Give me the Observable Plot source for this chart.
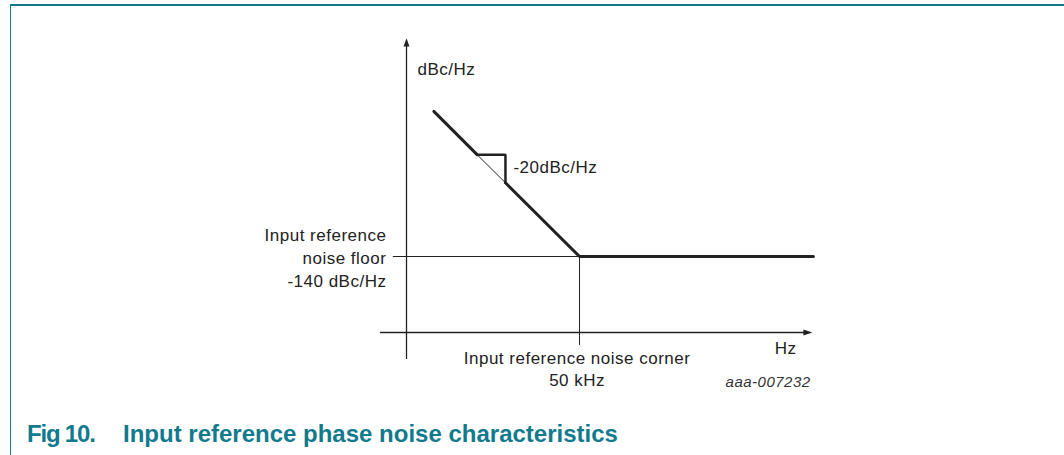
<!DOCTYPE html>
<html>
<head>
<meta charset="utf-8">
<script src="https://cdn.jsdelivr.net/npm/d3@7"></script>
<script src="https://cdn.jsdelivr.net/npm/@observablehq/plot@0.6"></script>
<style>
  html, body { margin: 0; padding: 0; background: #fff; }
  #wrap { position: relative; width: 1064px; height: 455px; overflow: hidden; background: #fff; }
  #frame { position: absolute; left: 10px; top: 4px; width: 1060px; height: 460px;
           border-top: 2px solid #16788c; border-left: 1px solid #16788c; box-sizing: border-box; }
  #chart { position: absolute; left: 0; top: 0; }
  #chart svg text { letter-spacing: 0.5px; }
  .cap { position: absolute; top: 421px; font-family: "Liberation Sans", Arial, sans-serif;
         font-weight: bold; font-size: 24px; line-height: 26px; color: #127a8e; white-space: nowrap; }
</style>
</head>
<body>
<div id="wrap">
  <div id="frame"></div>
  <div id="chart"></div>
  <div class="cap" style="left:27px; letter-spacing:-1.2px">Fig 10.</div>
  <div class="cap" style="left:123px">Input reference phase noise characteristics</div>
</div>
<script>
// Schematic phase-noise curve (x: arbitrary log-frequency units, corner at 50 kHz; y: dBc/Hz)
const curveX = [7.9, 20.4, 28.6, 50, 117.6];
const curveY = [-101.8, -113.2, -120.6, -140, -140];
const curvePart = ["thick1", "thin", "thick2", "thick2", "thick2"];

// slope indicator triangle (-20 dBc/Hz per decade)
const slopeX = [20.4, 28.6, 28.6];
const slopeY = [-113.2, -113.2, -120.6];

// axes
const xAxisRange = [-7.5, 117.3];   // horizontal axis at y = xAxisLevel
const xAxisLevel = -160;
const yAxisRange = [-167.1, -82.6]; // vertical axis at x = 0
const yAxisAt = 0;

// noise floor and corner guide lines
const floorLevel = -140;
const floorStartX = -3.8;
const cornerX = 50;
const cornerBottomY = -163.4;

// labels
const labelText = ["dBc/Hz", "-20dBc/Hz", "Hz"];
const labelX = [3.2, 30.9, 106.4];
const labelY = [-90.8, -116.6, -164.2];

const floorLabel = "Input reference\nnoise floor\n-140 dBc/Hz";
const floorLabelX = -5.8;
const floorLabelY = -140;

const cornerLabel = "Input reference noise corner\n50 kHz";
const cornerLabelX = 49.3;
const cornerLabelY = -169.3;

const figId = "aaa-007232";
const figIdX = 116.8;
const figIdY = -173.2;

// build tables
const curve = curveX.map((x, i) => ({x, y: curveY[i], part: curvePart[i]}));
const thick1 = curve.slice(0, 2);
const thin = curve.slice(1, 3);
const thick2 = curve.slice(2);
const slope = slopeX.map((x, i) => ({x, y: slopeY[i]}));
const labels = labelText.map((t, i) => ({t, x: labelX[i], y: labelY[i]}));

const arrowUp = { draw(ctx) { ctx.moveTo(0, 0); ctx.lineTo(-3, 8); ctx.lineTo(3, 8); ctx.closePath(); } };
const arrowRight = { draw(ctx) { ctx.moveTo(0, 0); ctx.lineTo(-9, -3); ctx.lineTo(-9, 3); ctx.closePath(); } };

const ink = "#222";
const font = "Liberation Sans, Arial, sans-serif";

const plot = Plot.plot({
  width: 1064,
  height: 400,
  margin: 0,
  style: {background: "transparent", fontFamily: font, overflow: "visible"},
  x: {domain: [-117.34, 190.17], axis: null},
  y: {domain: [-177.89, -72.63], axis: null},
  marks: [
    // axes
    Plot.ruleY([xAxisLevel], {x1: xAxisRange[0], x2: xAxisRange[1] - 2, stroke: ink, strokeWidth: 1.3}),
    Plot.ruleX([yAxisAt], {y1: yAxisRange[0], y2: yAxisRange[1] - 0.5, stroke: ink, strokeWidth: 1.3}),
    Plot.dot([{x: yAxisAt, y: yAxisRange[1]}], {x: "x", y: "y", symbol: arrowUp, fill: ink, stroke: "none", r: 3}),
    Plot.dot([{x: xAxisRange[1], y: xAxisLevel}], {x: "x", y: "y", symbol: arrowRight, fill: ink, stroke: "none", r: 3}),
    // guides
    Plot.ruleY([floorLevel], {x1: floorStartX, x2: cornerX, stroke: ink, strokeWidth: 1}),
    Plot.ruleX([cornerX], {y1: cornerBottomY, y2: floorLevel, stroke: ink, strokeWidth: 1}),
    // curve
    Plot.line(thin, {x: "x", y: "y", stroke: ink, strokeWidth: 1}),
    Plot.line(thick1, {x: "x", y: "y", stroke: ink, strokeWidth: 3}),
    Plot.line(thick2, {x: "x", y: "y", stroke: ink, strokeWidth: 3, strokeLinejoin: "miter"}),
    Plot.line(slope, {x: "x", y: "y", stroke: ink, strokeWidth: 2.5, strokeLinejoin: "miter"}),
    // labels
    Plot.text(labels, {x: "x", y: "y", text: "t", textAnchor: "start", fontSize: 17, fill: "#222"}),
    Plot.text([floorLabel], {x: floorLabelX, y: floorLabelY, text: d => d, textAnchor: "end", lineAnchor: "middle", lineHeight: 1.35, fontSize: 17, fill: "#222"}),
    Plot.text([cornerLabel], {x: cornerLabelX, y: cornerLabelY, text: d => d, textAnchor: "middle", lineAnchor: "middle", lineHeight: 1.3, fontSize: 17, fill: "#222"}),
    Plot.text([figId], {x: figIdX, y: figIdY, text: d => d, textAnchor: "end", fontSize: 15, fontStyle: "italic", fill: "#333"})
  ]
});
document.getElementById("chart").appendChild(plot);
</script>
</body>
</html>
